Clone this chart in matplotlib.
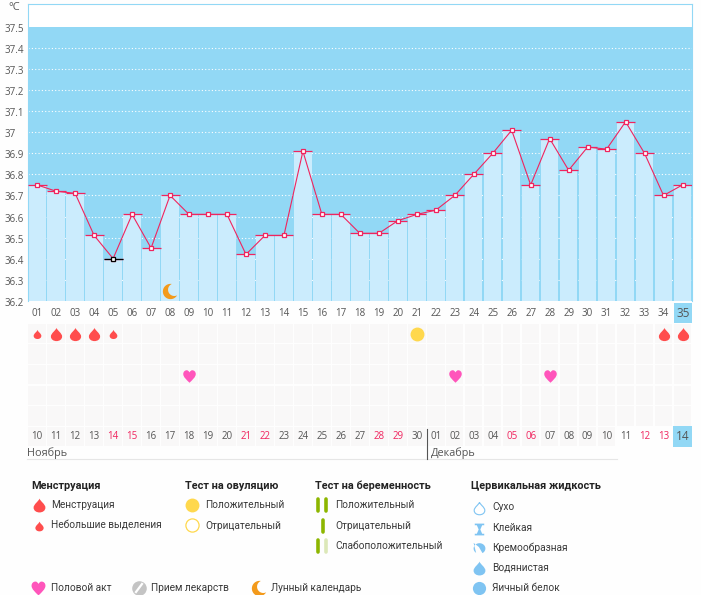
import numpy as np
import matplotlib
matplotlib.use("Agg")
import matplotlib.pyplot as plt
from matplotlib.path import Path
from matplotlib.patches import Rectangle

W, H = 701, 595

cycle_days = ["%02d" % d for d in range(1, 36)]
temps = [36.75, 36.72, 36.71, 36.51, 36.40, 36.61, 36.45, 36.70, 36.61, 36.61,
         36.61, 36.42, 36.51, 36.51, 36.91, 36.61, 36.61, 36.52, 36.52, 36.58,
         36.61, 36.63, 36.70, 36.80, 36.90, 37.01, 36.75, 36.97, 36.82, 36.93,
         36.92, 37.05, 36.90, 36.70, 36.75]
black_days = [5]
y_ticks = [36.2, 36.3, 36.4, 36.5, 36.6, 36.7, 36.8, 36.9, 37, 37.1, 37.2, 37.3, 37.4, 37.5]
y_labels = ["36.2", "36.3", "36.4", "36.5", "36.6", "36.7", "36.8", "36.9", "37", "37.1", "37.2", "37.3", "37.4", "37.5"]

dates = ["10", "11", "12", "13", "14", "15", "16", "17", "18", "19", "20", "21", "22", "23", "24", "25", "26", "27",
         "28", "29", "30", "01", "02", "03", "04", "05", "06", "07", "08", "09", "10", "11", "12", "13", "14"]
weekend_idx = [4, 5, 11, 12, 18, 19, 25, 26, 32, 33]

big_drop_days = [2, 3, 4, 34, 35]
small_drop_days = [1, 5]
ovulation_days = [21]
heart_days = [9, 23, 28]
moon_days = [8]

BLUE = "#92D8F5"
BAR = "#CBECFD"
PINK = "#F0245E"
CELL = "#F9F8F8"
TEXT = "#555555"
LEG = "#3A3A3A"
RED = "#FF4D4D"
HEART = "#FF55BB"
YELLOW = "#FFD84D"
ORANGE = "#F39A1B"
GREEN = "#8DB600"
CERV = "#7FC4F2"
FONT = "Roboto"
TICKFONT = "Open Sans"


def mirror_path(right):
    """Closed path from the right half of a shape that is symmetric in x."""
    verts = list(right)
    left = [(-x, y) for x, y in reversed(right[:-1])]
    verts += left
    codes = [Path.MOVETO] + [Path.CURVE4] * (len(verts) - 1)
    return Path(verts, codes)


DROP = mirror_path([(0, 1), (0.12, 0.6), (0.85, 0.2), (0.85, -0.3),
                    (0.85, -0.75), (0.45, -1), (0, -1)])
HEART_M = mirror_path([(0, -1), (0.5, -0.5), (1, -0.1), (1, 0.4),
                       (1, 0.8), (0.7, 1), (0.45, 1),
                       (0.25, 1), (0.1, 0.85), (0, 0.65)])


def crescent():
    a1, a2 = np.radians(80), np.radians(330)
    outer = np.linspace(a1, a2, 40)
    cx, cy = 0.55 * np.cos(np.radians(25)), 0.55 * np.sin(np.radians(25))
    p1 = np.array([np.cos(a1), np.sin(a1)])
    p2 = np.array([np.cos(a2), np.sin(a2)])
    r = np.hypot(p1[0] - cx, p1[1] - cy)
    b1 = np.arctan2(p2[1] - cy, p2[0] - cx) % (2 * np.pi)
    b2 = np.arctan2(p1[1] - cy, p1[0] - cx)
    inner = np.linspace(b1, b2, 30)
    pts = np.vstack([np.c_[np.cos(outer), np.sin(outer)],
                     np.c_[cx + r * np.cos(inner), cy + r * np.sin(inner)]])
    return Path(pts)


MOON = crescent()
HOURGLASS = Path([(-0.8, 1), (0.8, 1), (0.8, 0.72), (0.45, 0.72), (0.14, 0), (0.45, -0.72), (0.8, -0.72),
                  (0.8, -1), (-0.8, -1), (-0.8, -0.72), (-0.45, -0.72), (-0.14, 0), (-0.45, 0.72), (-0.8, 0.72),
                  (-0.8, 1)])
t = np.radians(np.linspace(-60, 235, 40))
CREAM = Path(np.vstack([np.c_[np.cos(t), np.sin(t) * 0.9],
                        [(-1, 0.95), (-0.1, 0.25)]]))


def px_axes(left, top, right, bottom):
    return fig.add_axes([left / W, 1 - bottom / H, (right - left) / W, (bottom - top) / H])


fig = plt.figure(figsize=(W / 100, H / 100), dpi=100, facecolor="#FEFEFE")

# temperature chart
ax = px_axes(27.7, 3.5, 692, 300.7)
ax.set_xlim(0, 35)
ax.set_ylim(36.2, 37.612)
x = np.arange(35) + 0.5
ax.axhspan(36.2, 37.5, color=BLUE, lw=0, zorder=0)
for v in y_ticks[1:-1]:
    ax.axhline(v, color="white", lw=0.8, ls=(0, (1, 2)), zorder=1)
ax.bar(x, np.array(temps) - 36.2, bottom=36.2, width=0.92, color=BAR, lw=0, zorder=2, antialiased=False)
ax.hlines(temps, x - 0.5, x + 0.5, color=PINK, lw=0.9, zorder=3)
ax.plot(x, temps, color=PINK, lw=0.8, zorder=4)
ax.plot(x, temps, ls="none", marker="s", ms=3.4, mfc="white", mec=PINK, mew=0.9, zorder=5)
for d in black_days:
    i = d - 1
    ax.hlines(temps[i], x[i] - 0.5, x[i] + 0.5, color="black", lw=0.9, zorder=6)
    ax.plot(x[i], temps[i], marker="s", ms=3.4, mfc="white", mec="black", mew=0.9, zorder=7)
for d in moon_days:
    ax.plot(d - 0.5, 36.245, marker=MOON, ms=11, mfc=ORANGE, mec="none", zorder=6)

ax.spines["bottom"].set_visible(False)
for s in ["top", "left", "right"]:
    ax.spines[s].set_color(BLUE)
    ax.spines[s].set_linewidth(0.8)
ax.set_yticks([])
ax.set_xticks(x)
ax.set_xticklabels(cycle_days[:-1] + [""], fontsize=7, color=TEXT, family=TICKFONT)
ax.tick_params(axis="x", length=0, pad=5)
for v, lab in zip(y_ticks, y_labels):
    ax.annotate(lab, xy=(0, v), xycoords=ax.get_yaxis_transform(), xytext=(-23, -2.5),
                textcoords="offset pixels", ha="left", va="center", fontsize=7,
                color=TEXT, family=TICKFONT)

# symptom rows and date row
grid = px_axes(27.7, 323, 692, 447)
grid.set_xlim(0, 35)
grid.set_ylim(6, 0)
grid.axis("off")
for col in range(35):
    for row in range(6):
        if row == 5 and col >= 31:
            continue
        grid.add_patch(Rectangle((col + 0.04, row + 0.04), 0.92, 0.92, fc=CELL, ec="none"))
grid.add_patch(Rectangle((34.02, 5.0), 0.98, 1.0, fc=BLUE, ec="none"))
for i, lab in enumerate(dates):
    col = "#F0245E" if i in weekend_idx else TEXT
    grid.text(i + 0.5, 5.5, lab, ha="center", va="center", fontsize=8.5 if i == 34 else 7,
              color=col, family=TICKFONT)
for d in big_drop_days:
    grid.plot(d - 0.5, 0.52, marker=DROP, ms=9.5, mfc=RED, mec="none")
for d in small_drop_days:
    grid.plot(d - 0.5, 0.52, marker=DROP, ms=6.5, mfc=RED, mec="none")
for d in ovulation_days:
    grid.plot(d - 0.5, 0.52, marker="o", ms=10, mfc=YELLOW, mec="none")
for d in heart_days:
    grid.plot(d - 0.5, 2.55, marker=HEART_M, ms=9, mfc=HEART, mec="none")

# everything below placed in pixel coordinates
ov = fig.add_axes([0, 0, 1, 1], facecolor="none")
ov.set_xlim(0, W)
ov.set_ylim(H, 0)
ov.axis("off")
ov.add_patch(Rectangle((674, 303), 18, 20, fc=BLUE, ec="none"))
ov.text(683, 313.5, "35", ha="center", va="center", fontsize=8.5, color=TEXT, family=TICKFONT)
ov.text(8.5, 7, "°C", ha="left", va="center", fontsize=8, color=TEXT, family=TICKFONT)
ov.text(27, 453, "Ноябрь", ha="left", va="center", fontsize=7.8, color=TEXT, family=TICKFONT)
ov.text(431, 453, "Декабрь", ha="left", va="center", fontsize=7.8, color=TEXT, family=TICKFONT)
ov.plot([27, 617], [458.5, 458.5], color="#E6E6E6", lw=0.8)
ov.plot([426.5, 426.5], [429, 458.5], color="#555555", lw=0.8)


def label(px, py, s, bold=False):
    ov.text(px, py, s, ha="left", va="center", fontsize=7.8 if bold else 7.3,
            color="#222222" if bold else LEG, family=FONT, weight="bold" if bold else "normal")


def bar_icon(px, py, color):
    ov.plot([px, px], [py - 6, py + 6], color=color, lw=2.6, solid_capstyle="round")


label(31, 486, "Менструация", True)
ov.plot(38.5, 505, marker=DROP, ms=10, mfc=RED, mec="none")
label(51, 505, "Менструация")
ov.plot(38.5, 526, marker=DROP, ms=7, mfc=RED, mec="none")
label(51, 526, "Небольшие выделения")

label(185, 486, "Тест на овуляцию", True)
ov.plot(192, 505, marker="o", ms=10, mfc=YELLOW, mec="none")
label(205, 505, "Положительный")
ov.plot(192, 525, marker="o", ms=9.5, mfc="white", mec=YELLOW, mew=0.9)
label(205, 526, "Отрицательный")

label(315, 486, "Тест на беременность", True)
bar_icon(318, 505, GREEN)
bar_icon(326, 505, GREEN)
label(335, 505, "Положительный")
bar_icon(322.5, 526, GREEN)
label(335, 526, "Отрицательный")
bar_icon(318, 546, GREEN)
bar_icon(326, 546, "#DCE8B8")
label(335, 546, "Слабоположительный")

label(471, 486, "Цервикальная жидкость", True)
ov.plot(479, 507.5, marker=DROP, ms=9, mfc="white", mec=CERV, mew=0.8)
label(492, 507, "Сухо")
ov.plot(479, 528.5, marker=HOURGLASS, ms=8.5, mfc=CERV, mec="none")
label(492, 528, "Клейкая")
ov.plot(479, 548, marker=CREAM, ms=8.5, mfc=CERV, mec="none")
label(492, 548, "Кремообразная")
ov.plot(479, 568, marker=DROP, ms=10, mfc=CERV, mec="none")
label(492, 568, "Водянистая")
ov.plot(479, 588, marker="o", ms=9.5, mfc=CERV, mec="none")
label(492, 588, "Яичный белок")

ov.plot(37.5, 588, marker=HEART_M, ms=10, mfc=HEART, mec="none")
label(51, 588, "Половой акт")
ov.plot(139, 588, marker="o", ms=10.5, mfc="#C4C4C4", mec="none")
ov.plot([136, 142], [592, 584], color="white", lw=1.6)
label(151, 588, "Прием лекарств")
ov.plot(259, 588, marker=MOON, ms=11, mfc=ORANGE, mec="none")
label(271, 588, "Лунный календарь")

fig.savefig("out.png", dpi=100, facecolor=fig.get_facecolor())
